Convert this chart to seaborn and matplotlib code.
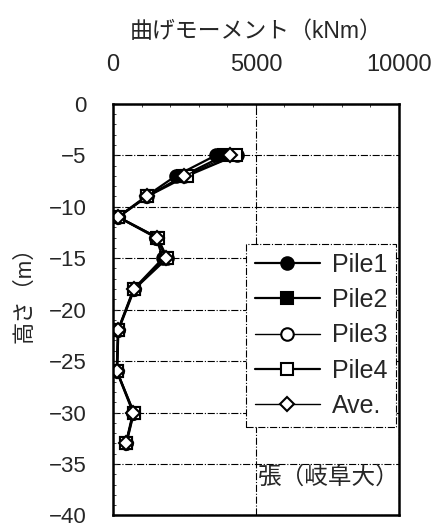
import numpy as np
import pandas as pd
import matplotlib
matplotlib.use("Agg")
import matplotlib.pyplot as plt
import seaborn as sns
from matplotlib.ticker import MultipleLocator

# 深さ (m) と曲げモーメント (kNm)
depth = [-5, -7, -9, -11, -13, -15, -18, -22, -26, -30, -33]
pile1 = [3600, 2200, 1150, 170, 1500, 1750, 720, 170, 130, 700, 450]
pile2 = [3900, 2450, 1200, 180, 1550, 1850, 730, 180, 140, 720, 460]
pile3 = [4350, 2500, 1180, 160, 1520, 1880, 740, 170, 150, 710, 440]
pile4 = [4300, 2600, 1200, 190, 1560, 1900, 750, 190, 140, 730, 470]
ave = [4100, 2500, 1180, 170, 1530, 1850, 730, 180, 140, 710, 450]

names = ["Pile1", "Pile2", "Pile3", "Pile4", "Ave."]
values = [pile1, pile2, pile3, pile4, ave]
markers = ["o", "s", "o", "s", "D"]
faces = ["black", "black", "white", "white", "white"]
widths = [1.6, 1.6, 1.0, 1.6, 1.0]
msizes = [9, 9, 9, 9, 7.5]

sns.set_style("white")
plt.rcParams["font.family"] = ["Liberation Sans", "Noto Sans CJK JP"]

fig = plt.figure(figsize=(4.33, 5.27), dpi=100)
ax = fig.add_axes([0.261, 0.022, 0.66, 0.781])

for name, vals, m, fc, lw, ms in zip(names, values, markers, faces, widths, msizes):
    df = pd.DataFrame({"moment": vals, "depth": depth})
    sns.lineplot(
        data=df, x="moment", y="depth", orient="y", sort=False,
        ax=ax, color="black", lw=lw, marker=m, markersize=ms,
        markerfacecolor=fc, markeredgecolor="black", markeredgewidth=1.5,
        label=name
    )

ax.set_xlim(0, 10000)
ax.set_ylim(-40, 0)
ax.xaxis.set_major_locator(MultipleLocator(5000))
ax.xaxis.set_minor_locator(MultipleLocator(1000))
ax.yaxis.set_major_locator(MultipleLocator(5))
ax.yaxis.set_minor_locator(MultipleLocator(1))
ax.xaxis.tick_top()
ax.xaxis.set_label_position("top")
ax.tick_params(axis="x", which="major", direction="in", length=3,
               labelsize=17, pad=20)
ax.tick_params(axis="y", which="major", direction="in", length=3,
               labelsize=16, pad=19)
ax.tick_params(axis="both", which="minor", direction="in", length=2)
ax.tick_params(axis="x", which="both", top=True, bottom=False)
ax.tick_params(axis="y", which="both", left=True, right=False)

ax.grid(True, which="major", color="black", linestyle="-.", linewidth=0.8)
for s in ax.spines.values():
    s.set_linewidth(1.8)
    s.set_color("black")

ax.set_xlabel("曲げモーメント（kNm）", fontsize=16.5, labelpad=12)
ax.set_ylabel("高さ（m）", fontsize=16)
ax.yaxis.set_label_coords(-0.27, 0.55)

leg = ax.legend(loc="upper left", bbox_to_anchor=(0.465, 0.659),
                borderaxespad=0, fontsize=18, handlelength=2.6,
                handletextpad=0.5, labelspacing=0.45, borderpad=0.35,
                fancybox=False, framealpha=1, edgecolor="black")
leg.get_frame().set_linestyle("-.")
leg.get_frame().set_linewidth(0.8)

ax.text(0.507, 0.092, "張（岐阜大）", transform=ax.transAxes, fontsize=17,
        va="center", ha="left")

fig.savefig("out.png", dpi=100)
